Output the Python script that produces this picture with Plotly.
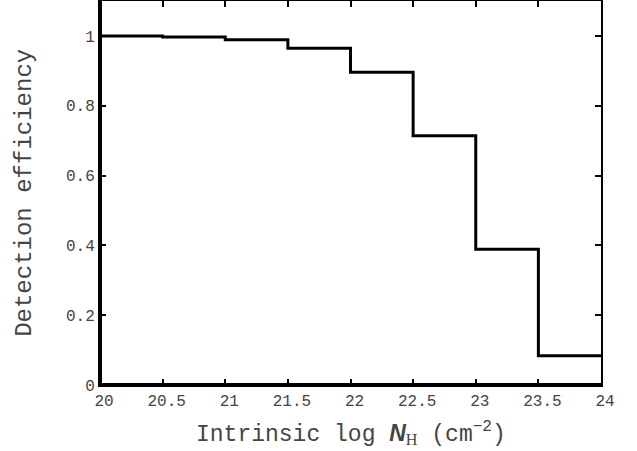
import plotly.graph_objects as go

bin_edges = [20, 20.5, 21, 21.5, 22, 22.5, 23, 23.5, 24]
efficiency = [1.0, 0.997, 0.989, 0.965, 0.896, 0.714, 0.389, 0.084]
x_ticks = [20, 20.5, 21, 21.5, 22, 22.5, 23, 23.5, 24]
x_tick_labels = ["20", "20.5", "21", "21.5", "22", "22.5", "23", "23.5", "24"]
y_ticks = [0, 0.2, 0.4, 0.6, 0.8, 1]
y_tick_labels = ["0", "0.2", "0.4", "0.6", "0.8", "1"]
x_title = ("Intrinsic log <span style='font-family:Arial'><i><b>N</b></i></span>"
           "<sub><span style='font-family:Liberation Serif'>H</span></sub> (cm<sup>\u22122</sup>)")
y_title = "Detection efficiency"

mono = "Liberation Mono, Courier New, monospace"
txt = "#444444"

fig = go.Figure()
fig.add_trace(go.Scatter(
    x=bin_edges,
    y=efficiency + [efficiency[-1]],
    mode="lines",
    line=dict(shape="hv", color="black", width=3),
    showlegend=False,
    hoverinfo="skip",
))

fig.update_layout(
    width=637, height=451,
    margin=dict(l=100, r=36, t=1, b=66, autoexpand=False),
    paper_bgcolor="white", plot_bgcolor="white",
    font=dict(family=mono, color=txt, size=16),
    xaxis=dict(
        range=[20, 24], tickvals=x_ticks, ticktext=x_tick_labels,
        showgrid=False, zeroline=False, automargin=False,
        showline=True, linecolor="black", linewidth=2, mirror="ticks",
        ticks="inside", ticklen=6, tickwidth=2, tickcolor="black",
        ticklabelshift=4,
        tickfont=dict(size=16, family=mono, color=txt),
    ),
    yaxis=dict(
        range=[0, 1.1], tickvals=y_ticks, ticktext=y_tick_labels,
        showgrid=False, zeroline=False, automargin=False,
        showline=True, linecolor="black", linewidth=2, mirror="ticks",
        ticks="inside", ticklen=6, tickwidth=2, tickcolor="black",
        tickfont=dict(size=16, family=mono, color=txt),
    ),
    annotations=[
        dict(text=x_title, xref="paper", yref="paper", x=0.5, y=-0.125,
             xanchor="center", yanchor="middle", showarrow=False,
             font=dict(size=23, family=mono, color=txt)),
        dict(text=y_title, xref="paper", yref="paper", x=-0.152, y=0.5,
             xanchor="center", yanchor="middle", showarrow=False, textangle=-90,
             font=dict(size=24, family=mono, color=txt)),
    ],
    shapes=[
        dict(type="line", xref="paper", yref="paper", x0=0, x1=0, y0=0, y1=1,
             line=dict(color="black", width=4)),
        dict(type="line", xref="paper", yref="paper", x0=0, x1=1, y0=0, y1=0,
             line=dict(color="black", width=4)),
    ],
)

fig.write_html("out.html", post_script="document.body.style.margin='0';",
               config={"displayModeBar": False})
